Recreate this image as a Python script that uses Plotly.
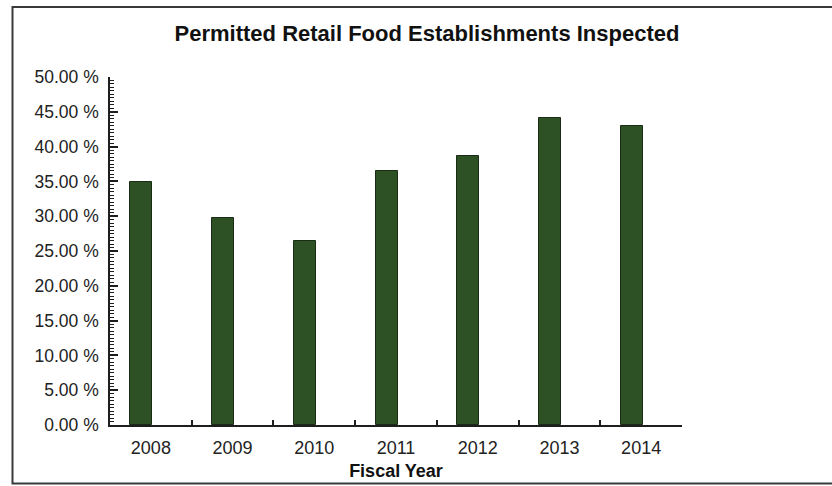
import plotly.graph_objects as go

# Fiscal years and share of permitted retail food establishments inspected
years = ["2008", "2009", "2010", "2011", "2012", "2013", "2014"]
inspected_pct = [34.9, 29.7, 26.5, 36.5, 38.6, 44.1, 43.0]

# Y-axis ticks (percent) and their labels
y_ticks = [0, 5, 10, 15, 20, 25, 30, 35, 40, 45, 50]
y_tick_labels = ["%.2f %%" % v for v in y_ticks]

W, H = 832, 486
ML, MR, MT, MB = 110, 150, 77, 61
PW, PH = W - ML - MR, H - MT - MB

FONT = "Liberation Sans, Arial, sans-serif"
BAR_FILL = "#2e5025"
BAR_EDGE = "#1b2c16"
AXIS = "#1e1e1e"

fig = go.Figure()
fig.add_trace(go.Bar(
    x=years,
    y=inspected_pct,
    offset=-0.25,
    width=0.27,
    marker=dict(color=BAR_FILL, line=dict(color=BAR_EDGE, width=1)),
    hovertemplate="%{x}: %{y:.2f}%<extra></extra>",
))

# outer frame, expressed in paper units relative to the plot area
def px_x(p):
    return (p - ML) / PW

def px_y(p):
    return 1 - (p - MT) / PH

fig.add_shape(
    type="rect", xref="paper", yref="paper",
    x0=px_x(12.5), x1=px_x(840), y0=px_y(483.5), y1=px_y(7),
    line=dict(color="#3a3a3a", width=2), fillcolor="rgba(0,0,0,0)",
    layer="below",
)

fig.update_layout(
    width=W, height=H,
    margin=dict(l=ML, r=MR, t=MT, b=MB),
    paper_bgcolor="white",
    plot_bgcolor="white",
    showlegend=False,
    bargap=0,
    font=dict(family=FONT, color="#222222", size=17),
    title=dict(
        text="<b>Permitted Retail Food Establishments Inspected</b>",
        x=427 / W, xanchor="center",
        y=1 - 33 / H, yanchor="middle",
        font=dict(family=FONT, size=22, color="#111111"),
    ),
    xaxis=dict(
        type="category",
        range=[-0.5, 6.5],
        automargin=False,
        showline=True, linecolor=AXIS, linewidth=1.5,
        ticks="inside", tickson="boundaries", ticklen=5,
        tickcolor=AXIS, tickwidth=1.5,
        showgrid=False, zeroline=False,
        ticklabelstandoff=6,
        tickfont=dict(size=18, color="#222222"),
        title=dict(text="<b>Fiscal Year</b>", standoff=7,
                   font=dict(size=18, color="#111111")),
    ),
    yaxis=dict(
        range=[0, 50],
        automargin=False,
        tickvals=y_ticks, ticktext=y_tick_labels,
        showline=True, linecolor=AXIS, linewidth=1.5,
        ticks="inside", ticklen=8, tickcolor=AXIS, tickwidth=1.5,
        minor=dict(dtick=0.5, ticks="inside", ticklen=4,
                   tickcolor=AXIS, tickwidth=1, showgrid=False),
        showgrid=False, zeroline=False,
        ticklabelstandoff=6,
        tickfont=dict(size=17.5, color="#222222"),
    ),
)

fig.write_html("out.html")
